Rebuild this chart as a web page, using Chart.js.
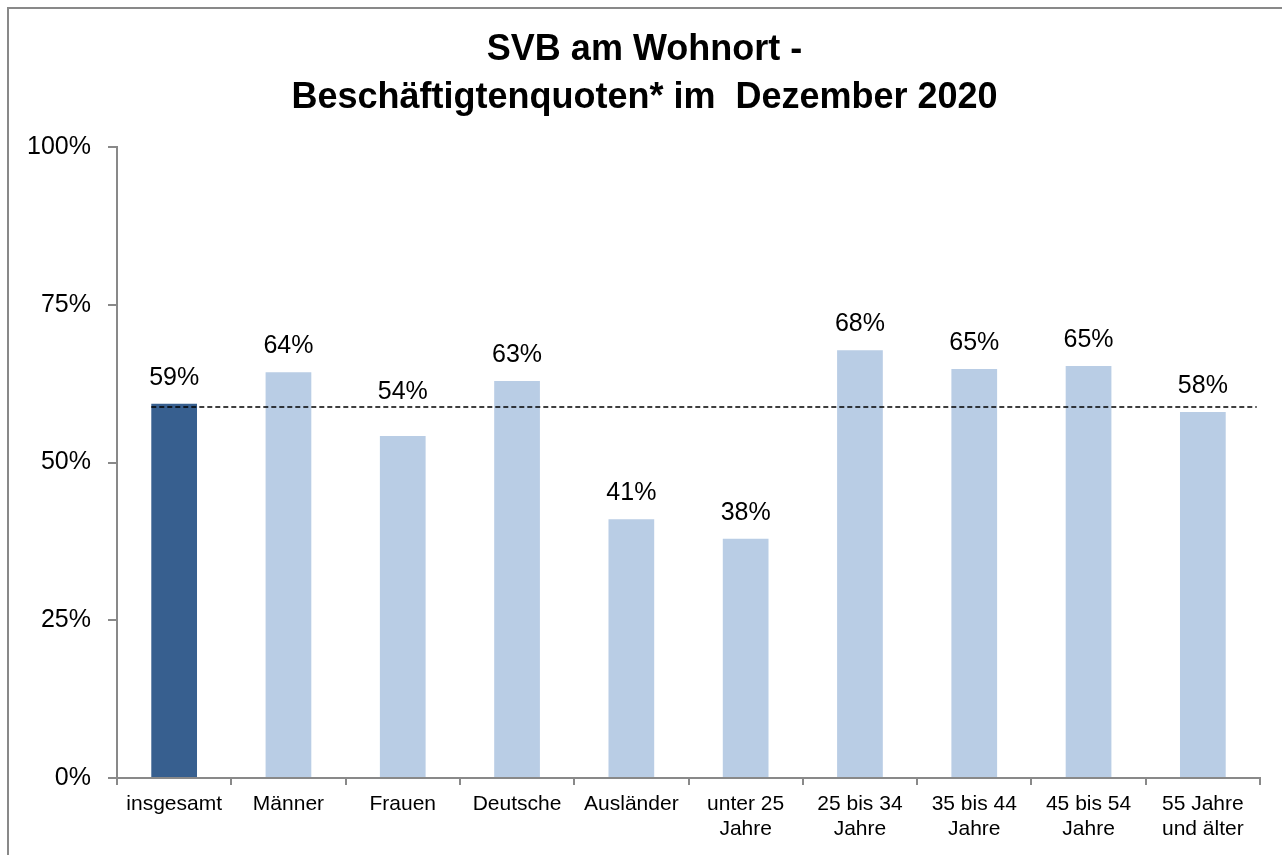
<!DOCTYPE html>
<html>
<head>
<meta charset="utf-8">
<script src="https://cdn.jsdelivr.net/npm/chart.js@4.4.1/dist/chart.umd.min.js"></script>
<style>
  html, body { margin: 0; padding: 0; background: #fff; overflow: hidden; }
  #wrap { position: relative; width: 1282px; height: 855px; }
</style>
</head>
<body>
<div id="wrap"><canvas id="c" width="1282" height="855"></canvas></div>
<script>
const categories = ["insgesamt", "Männer", "Frauen", "Deutsche", "Ausländer",
  ["unter 25", "Jahre"], ["25 bis 34", "Jahre"], ["35 bis 44", "Jahre"],
  ["45 bis 54", "Jahre"], ["55 Jahre", "und älter"]];
const quotes = [59.3, 64.3, 54.2, 62.9, 41.0, 37.9, 67.8, 64.8, 65.3, 58.0];
const referenceLine = 58.8;
const yTicks = [0, 25, 50, 75, 100];
const titleLines = ["SVB am Wohnort -", "Beschäftigtenquoten* im  Dezember 2020"];

const DARK = "#375F8F";
const LIGHT = "#B9CDE5";
const AXIS = "#898989";
const FONT = "'Liberation Sans', Arial, sans-serif";

const frame = {
  id: "frame",
  beforeDraw(chart) {
    const ctx = chart.ctx;
    ctx.save();
    ctx.fillStyle = "#fff";
    ctx.fillRect(0, 0, chart.width, chart.height);
    ctx.strokeStyle = AXIS;
    ctx.lineWidth = 2;
    ctx.strokeRect(8, 8, 3000, 3000);
    ctx.restore();
  }
};

const refLinePlugin = {
  id: "refLine",
  afterDatasetsDraw(chart) {
    const meta = chart.getDatasetMeta(0);
    const y = chart.scales.y.getPixelForValue(referenceLine);
    const first = meta.data[0], last = meta.data[meta.data.length - 1];
    const x0 = first.x - first.width / 2;
    const x1 = last.x + last.width / 2 + 31;
    const ctx = chart.ctx;
    ctx.save();
    ctx.strokeStyle = "#000";
    ctx.lineWidth = 1.5;
    ctx.setLineDash([5, 3]);
    ctx.beginPath();
    ctx.moveTo(x0, y);
    ctx.lineTo(x1, y);
    ctx.stroke();
    ctx.restore();
  }
};

const labelPlugin = {
  id: "valueLabels",
  afterDraw(chart) {
    const meta = chart.getDatasetMeta(0);
    const lineY = chart.scales.y.getPixelForValue(referenceLine);
    const ctx = chart.ctx;
    ctx.save();
    ctx.font = "25px " + FONT;
    ctx.fillStyle = "#000";
    ctx.textAlign = "center";
    ctx.textBaseline = "middle";
    meta.data.forEach((bar, i) => {
      let cy = bar.y - 26;
      if (cy + 12 > lineY - 2 && cy - 12 < lineY + 2) cy = lineY - 15;
      ctx.fillText(Math.round(quotes[i]) + "%", bar.x, cy);
    });
    ctx.restore();
  }
};

new Chart(document.getElementById("c"), {
  type: "bar",
  data: {
    labels: categories,
    datasets: [{
      data: quotes,
      backgroundColor: quotes.map((v, i) => i === 0 ? DARK : LIGHT),
      borderWidth: 0,
      barPercentage: 0.4,
      categoryPercentage: 1.0
    }]
  },
  options: {
    responsive: false,
    animation: false,
    devicePixelRatio: 1,
    layout: { padding: { left: 7, right: 0, top: 0, bottom: 0 } },
    plugins: {
      legend: { display: false },
      tooltip: { enabled: false },
      title: {
        display: true,
        text: titleLines,
        color: "#000",
        font: { family: FONT, size: 36, weight: "bold", lineHeight: 48 / 36 },
        padding: { top: 26, bottom: 25 }
      }
    },
    scales: {
      x: {
        grid: { display: true, drawOnChartArea: false, drawTicks: true, tickLength: 7, color: AXIS, lineWidth: 2, offset: true },
        border: { display: true, color: AXIS, width: 2 },
        ticks: { color: "#000", font: { family: FONT, size: 21, lineHeight: 25 / 21 }, padding: 7, maxRotation: 0, autoSkip: false },
        afterFit(scale) { scale.height = 77; }
      },
      y: {
        min: 0, max: 100,
        afterBuildTicks(scale) { scale.ticks = yTicks.map(v => ({ value: v })); },
        grid: { display: true, drawOnChartArea: false, drawTicks: true, tickLength: 9, color: AXIS, lineWidth: 2 },
        border: { display: true, color: AXIS, width: 2 },
        ticks: { color: "#000", font: { family: FONT, size: 25 }, padding: 17, callback: v => v + "%" },
        afterFit(scale) { scale.width = 110; }
      },
      spacer: {
        position: "right",
        display: true,
        grid: { display: false },
        border: { display: false },
        ticks: { display: false },
        afterFit(scale) { scale.width = 22; }
      }
    }
  },
  plugins: [frame, refLinePlugin, labelPlugin]
});
</script>
</body>
</html>
